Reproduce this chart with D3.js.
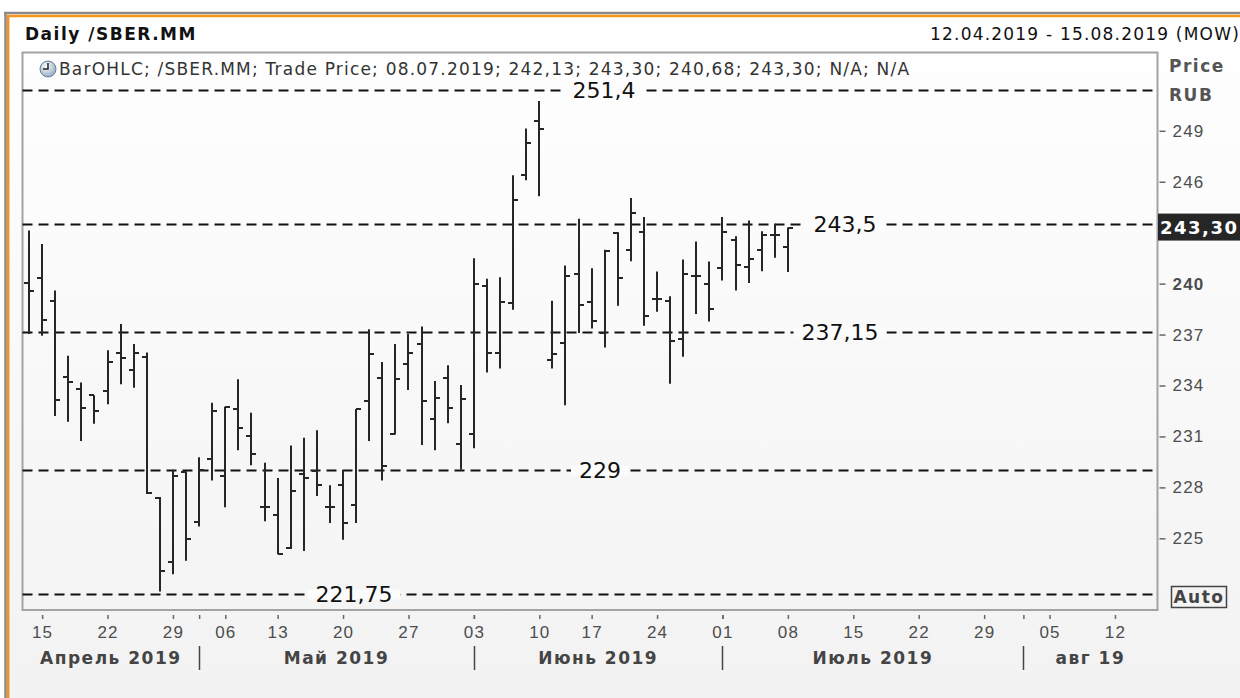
<!DOCTYPE html>
<html lang="ru">
<head>
<meta charset="UTF-8">
<title>Daily /SBER.MM</title>
<script src="https://cdnjs.cloudflare.com/ajax/libs/d3/7.8.5/d3.min.js"></script>
<style>
  body { margin: 0; background: #fff; }
  svg { display: block; font-family: "DejaVu Sans", Verdana, sans-serif; }
  text { letter-spacing: 1.2px; }
  text.b { font-weight: bold; letter-spacing: 1.5px; }
  .bar line { stroke: #262626; stroke-width: 2; }
  .level { stroke: #111; stroke-width: 2; stroke-dasharray: 10 6; }
  .level-label { font-size: 22px; fill: #111; letter-spacing: 0; }
  .yaxis .domain, .xaxis .domain, .xsep .domain { display: none; }
  .yaxis .tick line, .xaxis .tick line, .xsep .tick line { stroke: #666; stroke-width: 1.5; }
  .yaxis text { font-size: 17px; fill: #4d4d4d; }
  .xaxis text { font-size: 17px; fill: #4d4d4d; }
</style>
</head>
<body>
<svg id="chart" width="1240" height="698"></svg>
<script>
// daily bars, 12.04.2019 - 08.07.2019
const dates = [
  "2019-04-12", "2019-04-15", "2019-04-16", "2019-04-17", "2019-04-18", "2019-04-19",
  "2019-04-22", "2019-04-23", "2019-04-24", "2019-04-25", "2019-04-26", "2019-04-29",
  "2019-04-30", "2019-05-02", "2019-05-03", "2019-05-06", "2019-05-07", "2019-05-08",
  "2019-05-10", "2019-05-13", "2019-05-14", "2019-05-15", "2019-05-16", "2019-05-17",
  "2019-05-20", "2019-05-21", "2019-05-22", "2019-05-23", "2019-05-24", "2019-05-27",
  "2019-05-28", "2019-05-29", "2019-05-30", "2019-05-31", "2019-06-03", "2019-06-04",
  "2019-06-05", "2019-06-06", "2019-06-07", "2019-06-10", "2019-06-11", "2019-06-13",
  "2019-06-14", "2019-06-17", "2019-06-18", "2019-06-19", "2019-06-20", "2019-06-21",
  "2019-06-24", "2019-06-25", "2019-06-26", "2019-06-27", "2019-06-28", "2019-07-01",
  "2019-07-02", "2019-07-03", "2019-07-04", "2019-07-05", "2019-07-08"
];
const open = [
  240.02, 240.34, 239.00, 234.50, 233.82, 233.43, 233.68, 235.94, 234.92, 235.69,
  227.38, 223.60, 228.90, 225.96, 229.65, 228.66, 232.60, 231.00, 226.87, 226.40,
  224.42, 228.80, 228.95, 226.85, 228.12, 226.99, 233.07, 234.47, 231.12, 235.29,
  236.44, 232.04, 234.47, 230.57, 231.12, 239.88, 235.94, 238.86, 246.38, 249.57,
  235.51, 236.53, 240.55, 238.94, 237.12, 243.00, 241.99, 243.03, 239.10, 239.00,
  236.73, 240.43, 239.98, 240.90, 242.58, 241.00, 241.99, 242.89, 242.13
];
const high = [
  243.13, 242.34, 239.59, 235.75, 234.17, 233.43, 236.08, 237.62, 236.44, 235.94,
  227.44, 229.04, 228.95, 229.78, 232.99, 232.75, 234.37, 232.40, 229.45, 228.56,
  230.47, 230.92, 231.36, 228.13, 229.03, 232.62, 237.32, 235.39, 236.44, 237.03,
  237.48, 234.27, 235.20, 234.03, 241.49, 240.28, 240.37, 246.38, 249.14, 250.75,
  238.99, 241.06, 243.82, 240.90, 241.99, 243.03, 245.04, 243.92, 240.71, 239.25,
  241.42, 242.48, 241.30, 243.92, 242.79, 243.72, 243.09, 243.53, 243.30
];
const low = [
  237.03, 236.93, 232.20, 231.87, 230.73, 231.75, 232.89, 234.08, 233.87, 227.61,
  221.87, 222.89, 223.68, 225.69, 228.40, 226.83, 230.18, 229.31, 226.00, 224.07,
  224.37, 224.25, 227.50, 225.90, 224.92, 225.90, 230.73, 228.41, 231.12, 233.74,
  230.49, 230.18, 231.77, 229.05, 230.30, 234.76, 235.00, 238.46, 246.08, 245.14,
  235.00, 232.84, 237.09, 237.36, 236.24, 238.70, 241.32, 237.52, 238.35, 234.11,
  235.69, 238.21, 237.77, 240.18, 239.60, 240.04, 240.73, 241.52, 240.68
];
const close = [
  239.55, 237.86, 233.15, 234.23, 232.69, 232.48, 235.39, 235.61, 235.94, 227.65,
  223.05, 228.66, 224.98, 229.01, 232.50, 232.75, 231.48, 229.98, 226.87, 224.07,
  227.77, 228.56, 228.12, 226.85, 225.93, 232.62, 235.85, 229.25, 234.37, 235.94,
  233.07, 233.28, 232.69, 233.18, 239.98, 235.94, 238.94, 244.94, 248.29, 249.10,
  235.85, 240.43, 238.74, 237.81, 241.95, 240.34, 244.15, 238.07, 239.10, 236.63,
  240.57, 240.43, 238.51, 243.03, 241.12, 241.46, 242.89, 242.89, 243.30
];

const rangeEnd = "2019-08-15";
const levels = [251.4, 243.5, 237.15, 229, 221.75];
const levelText = ["251,4", "243,5", "237,15", "229", "221,75"];
const yTicks = [225, 228, 231, 234, 237, 240, 243, 246, 249];
const tickDates = [
  "2019-04-15", "2019-04-22", "2019-04-29", "2019-05-06", "2019-05-13", "2019-05-20",
  "2019-05-27", "2019-06-03", "2019-06-10", "2019-06-17", "2019-06-24", "2019-07-01",
  "2019-07-08", "2019-07-15", "2019-07-22", "2019-07-29", "2019-08-05", "2019-08-12"
];
const monthNames = ["Апрель 2019", "Май 2019", "Июнь 2019", "Июль 2019", "авг 19"];

// where each level's label sits along its line (px)
const levelLabelX = [604, 845, 840, 600, 354];

const W = 1240, H = 698;
const plot = { left: 22.5, right: 1157.5, top: 52.5, bottom: 610 };

const parse = d3.timeParse("%Y-%m-%d");
const fmtKey = d3.timeFormat("%Y-%m-%d");
const fmtRu = d3.timeFormat("%d.%m.%Y");
const comma = v => d3.format(".2f")(v).replace(".", ",");

// axis slots: traded days, then weekdays up to the end of the range
const lastDay = parse(dates[dates.length - 1]);
const future = d3.timeDay.range(d3.timeDay.offset(lastDay, 1), d3.timeDay.offset(parse(rangeEnd), 1))
  .filter(d => d.getDay() !== 0 && d.getDay() !== 6)
  .map(fmtKey);
const slots = dates.concat(future);
const slotIdx = d => slots.indexOf(d);

const x = d3.scaleLinear().domain([-0.5, slots.length - 0.75]).range([plot.left, plot.right]);
const y = d3.scaleLinear().domain([220.78, 253.61]).range([plot.bottom, plot.top]);

const svg = d3.select("#chart");
const defs = svg.append("defs");

const bg = defs.append("linearGradient").attr("id", "panelBg").attr("x1", 0).attr("y1", 0).attr("x2", 0).attr("y2", 1);
bg.append("stop").attr("offset", "0%").attr("stop-color", "#ffffff");
bg.append("stop").attr("offset", "100%").attr("stop-color", "#f2f2f2");

const clock = defs.append("radialGradient").attr("id", "clockBg").attr("cx", "40%").attr("cy", "35%").attr("r", "70%");
clock.append("stop").attr("offset", "0%").attr("stop-color", "#ffffff");
clock.append("stop").attr("offset", "100%").attr("stop-color", "#8fa6c2");

svg.append("rect").attr("width", W).attr("height", H).attr("fill", "#fff");

// panel with grey + orange frame
svg.append("rect").attr("x", 8).attr("y", 16).attr("width", W).attr("height", H).attr("fill", "url(#panelBg)");
svg.append("line").attr("x1", 4).attr("x2", W).attr("y1", 13).attr("y2", 13).attr("stroke", "#8a8a8a").attr("stroke-width", 2.5);
svg.append("line").attr("x1", 5.5).attr("x2", 5.5).attr("y1", 12).attr("y2", H).attr("stroke", "#8a8a8a").attr("stroke-width", 2.5);
svg.append("line").attr("x1", 7).attr("x2", W).attr("y1", 16).attr("y2", 16).attr("stroke", "#f7921e").attr("stroke-width", 2.5);
svg.append("line").attr("x1", 8.2).attr("x2", 8.2).attr("y1", 15).attr("y2", H).attr("stroke", "#f7921e").attr("stroke-width", 2.5);

// header
svg.append("text").attr("class", "b").attr("x", 25).attr("y", 40)
  .attr("font-size", 17).attr("fill", "#111")
  .text("Daily /SBER.MM");
svg.append("text").attr("x", 1240).attr("y", 40).attr("text-anchor", "end")
  .attr("font-size", 17).attr("fill", "#111")
  .text(`${fmtRu(parse(dates[0]))} - ${fmtRu(parse(rangeEnd))} (MOW)`);

// plot frame
svg.append("rect").attr("x", plot.left).attr("y", plot.top)
  .attr("width", plot.right - plot.left).attr("height", plot.bottom - plot.top)
  .attr("fill", "none").attr("stroke", "#a3a3a3").attr("stroke-width", 2);

// legend line
const li = dates.length - 1;
svg.append("circle").attr("cx", 48).attr("cy", 69).attr("r", 8)
  .attr("fill", "url(#clockBg)").attr("stroke", "#6b7f99").attr("stroke-width", 1);
svg.append("path").attr("d", "M48,63 L48,69 L43,69").attr("fill", "none").attr("stroke", "#222").attr("stroke-width", 1.5);
svg.append("text").attr("x", 59).attr("y", 75).attr("font-size", 17).attr("fill", "#333")
  .text(`BarOHLC; /SBER.MM; Trade Price; ${fmtRu(parse(dates[li]))}; ${comma(open[li])}; ${comma(high[li])}; ${comma(low[li])}; ${comma(close[li])}; N/A; N/A`);

// level lines with labels (lines, then knock-out boxes, then text)
const lvLines = svg.append("g"), lvBoxes = svg.append("g"), lvText = svg.append("g");
levels.forEach((v, i) => {
  const yy = Math.round(y(v)) + 0.5;
  lvLines.append("line").attr("class", "level")
    .attr("x1", plot.left).attr("x2", plot.right).attr("y1", yy).attr("y2", yy);
  const t = lvText.append("text").attr("class", "level-label")
    .attr("x", levelLabelX[i]).attr("y", yy).attr("dy", "0.36em")
    .attr("text-anchor", "middle").text(levelText[i]);
  const bb = t.node().getBBox();
  lvBoxes.append("rect").attr("x", bb.x - 8).attr("y", yy - 5)
    .attr("width", bb.width + 16).attr("height", 10).attr("fill", "#fcfcfc");
});

// OHLC bars
const bars = svg.append("g").selectAll("g.bar")
  .data(dates.map((d, i) => ({ i: slotIdx(d), o: open[i], h: high[i], l: low[i], c: close[i] })))
  .join("g").attr("class", "bar");
bars.append("line")
  .attr("x1", d => Math.round(x(d.i))).attr("x2", d => Math.round(x(d.i)))
  .attr("y1", d => y(d.h)).attr("y2", d => y(d.l));
bars.append("line")
  .attr("x1", d => Math.round(x(d.i)) - 5).attr("x2", d => Math.round(x(d.i)))
  .attr("y1", d => Math.round(y(d.o))).attr("y2", d => Math.round(y(d.o)));
bars.append("line")
  .attr("x1", d => Math.round(x(d.i))).attr("x2", d => Math.round(x(d.i)) + 5)
  .attr("y1", d => Math.round(y(d.c))).attr("y2", d => Math.round(y(d.c)));

// right price axis
const lastC = close[li];
const yAx = svg.append("g").attr("class", "yaxis").attr("transform", `translate(${plot.right + 2},0)`)
  .call(d3.axisRight(y).tickValues(yTicks).tickSize(6).tickPadding(7).tickFormat(d3.format("d")));
yAx.selectAll("text").filter(d => d === 240).attr("font-weight", "bold").attr("fill", "#333");
// the label under the last-price tag is covered
yAx.selectAll("text").filter(d => Math.abs(y(d) - y(lastC)) < 14).remove();

svg.append("text").attr("class", "b").attr("x", 1169).attr("y", 72).attr("font-size", 17).attr("fill", "#555").text("Price");
svg.append("text").attr("class", "b").attr("x", 1169).attr("y", 101).attr("font-size", 17).attr("fill", "#555").text("RUB");

// last price tag
svg.append("rect").attr("x", 1158).attr("y", y(lastC) - 14).attr("width", 82).attr("height", 27).attr("fill", "#262626");
svg.append("text").attr("class", "b").attr("x", 1160).attr("y", y(lastC) + 6).attr("font-size", 18)
  .attr("fill", "#fff").text(comma(lastC));

// Auto box
svg.append("rect").attr("x", 1171.5).attr("y", 586.5).attr("width", 55).attr("height", 21)
  .attr("fill", "none").attr("stroke", "#444").attr("stroke-width", 1.5);
svg.append("text").attr("class", "b").attr("x", 1199).attr("y", 603).attr("text-anchor", "middle")
  .attr("font-size", 17).attr("fill", "#444").text("Auto");

// date axis
const tickIdx = tickDates.map(slotIdx);
svg.append("g").attr("class", "xaxis").attr("transform", `translate(0,${plot.bottom + 5})`)
  .call(d3.axisBottom(x).tickValues(tickIdx).tickSize(4).tickPadding(7)
    .tickFormat(i => d3.timeFormat("%d")(parse(slots[i]))));

// month boundaries
const bounds = slots.map((d, i) => i).filter(i => i > 0 && slots[i].slice(0, 7) !== slots[i - 1].slice(0, 7));
svg.append("g").attr("class", "xsep").attr("transform", `translate(0,${plot.bottom + 5})`)
  .call(d3.axisBottom(x).tickValues(bounds).tickSize(4).tickFormat(""));

const edges = [plot.left].concat(bounds.map(i => x(i)), [plot.right]);
const months = svg.append("g");
monthNames.forEach((m, k) => {
  months.append("text").attr("class", "b").attr("x", (edges[k] + edges[k + 1]) / 2).attr("y", 664)
    .attr("text-anchor", "middle").attr("font-size", 17)
    .attr("fill", "#444").text(m);
});
bounds.forEach(i => {
  months.append("line").attr("x1", Math.round(x(i)) + 0.5).attr("x2", Math.round(x(i)) + 0.5)
    .attr("y1", 646).attr("y2", 670).attr("stroke", "#444").attr("stroke-width", 1.5);
});
</script>
</body>
</html>
